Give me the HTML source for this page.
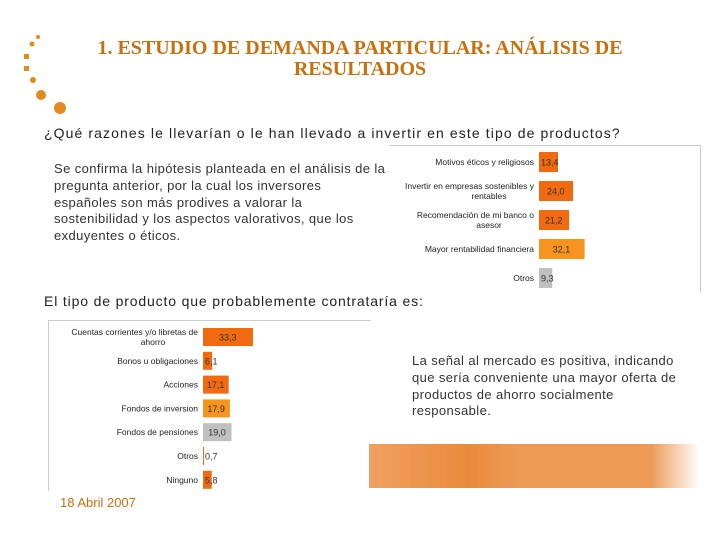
<!DOCTYPE html>
<html><head><meta charset="utf-8">
<style>
body{margin:0;width:720px;height:540px;background:#fff;position:relative;overflow:hidden;font-family:"Liberation Sans",sans-serif}
.abs{position:absolute}
.title{left:80px;width:560px;top:38px;text-align:center;font-family:"Liberation Serif",serif;font-weight:bold;font-size:20px;color:#c8700e;line-height:21px}
.q{left:44px;top:125px;font-size:14px;letter-spacing:1.1px;color:#222;white-space:nowrap}
.p{font-size:13px;letter-spacing:0.4px;color:#333;line-height:16.8px;white-space:nowrap}
svg text{font-family:"Liberation Sans",sans-serif}
</style></head><body>
<svg class="abs" style="left:0;top:0" width="80" height="120">
<circle cx="38" cy="37" r="2" fill="#e38a1e"/><circle cx="32" cy="44" r="2.5" fill="#e38a1e"/>
<rect x="24" y="54" width="5" height="5" fill="#e38a1e"/><rect x="24" y="66" width="5" height="5" fill="#e38a1e"/>
<circle cx="33" cy="80" r="3" fill="#e38a1e"/><circle cx="41" cy="95" r="5" fill="#e38a1e"/><circle cx="60" cy="108" r="6" fill="#e38a1e"/>
</svg>
<div class="abs title">1. ESTUDIO DE DEMANDA PARTICULAR: ANÁLISIS DE<br>RESULTADOS</div>
<div class="abs q">¿Qué razones le llevarían o le han llevado a invertir en este tipo de productos?</div>
<div class="abs p" style="left:54px;top:161px">Se confirma la hipótesis planteada en el análisis de la<br>pregunta anterior, por la cual los inversores<br>españoles son más prodives a valorar la<br>sostenibilidad y los aspectos valorativos, que los<br>exduyentes o éticos.</div>
<div class="abs q" style="top:293px;letter-spacing:0.85px">El tipo de producto que probablemente contrataría es:</div>
<div class="abs p" style="left:412px;top:353px">La señal al mercado es positiva, indicando<br>que sería conveniente una mayor oferta de<br>productos de ahorro socialmente<br>responsable.</div>
<div class="abs" style="left:369px;top:444px;width:331px;height:44px;background:linear-gradient(90deg,#f0a060 0%,#ea8a3c 30%,#ec9a55 45%,#ec9a55 85%,#fff 100%)"></div>
<div class="abs" style="left:60px;top:495px;font-size:13px;color:#c8700e">18 Abril 2007</div>
<svg id="c1" class="abs" style="left:389px;top:145px;border-top:1px solid #ccc;border-right:1px solid #ccc" width="311" height="146"></svg>
<svg id="c2" class="abs" style="left:48px;top:320px;border-top:1px solid #ccc;border-left:1px solid #ccc" width="322" height="170"></svg>
<script>
const cats1=[["Motivos éticos y religiosos"],["Invertir en empresas sostenibles y","rentables"],["Recomendación de mi banco o","asesor"],["Mayor rentabilidad financiera"],["Otros"]];
const vals1=[13.4,24.0,21.2,32.1,9.3];
const labels1=["13,4","24,0","21,2","32,1","9,3"];
const colors1=["#f26a10","#f26a10","#f26a10","#f7941d","#c0c0c0"];
const cats2=[["Cuentas corrientes y/o libretas de","ahorro"],["Bonos u obligaciones"],["Acciones"],["Fondos de inversion"],["Fondos de pensiones"],["Otros"],["Ninguno"]];
const vals2=[33.3,6.1,17.1,17.9,19.0,0.7,5.8];
const labels2=["33,3","6,1","17,1","17,9","19,0","0,7","5,8"];
const colors2=["#f26a10","#f26a10","#f26a10","#f7941d","#c0c0c0","#f26a10","#f26a10"];
const NS="http://www.w3.org/2000/svg";
function draw(id,cats,vals,labels,colors,x0,k,y0,step,bh,name){
 const s=document.getElementById(id);
 const x=v=>x0+v*k, y=i=>y0+i*step;
 cats.forEach((c,i)=>{
  const r=document.createElementNS(NS,"rect");
  
  
  r.setAttribute("x",x0);r.setAttribute("y",y(i)-bh/2);r.setAttribute("width",x(vals[i])-x0);r.setAttribute("height",bh);r.setAttribute("fill",colors[i]);s.appendChild(r);
  const t=document.createElementNS(NS,"text");
  
  
  t.setAttribute("x",Math.max(x0+2,(x0+x(vals[i]))/2-9));t.setAttribute("y",y(i)+3.5);t.setAttribute("font-size","9");t.setAttribute("fill","#333");t.textContent=labels[i];s.appendChild(t);
  c.forEach((line,j)=>{
   const l=document.createElementNS(NS,"text");
   
   
   l.setAttribute("x",x0-5);l.setAttribute("y",y(i)+3-(c.length-1)*5+j*10);l.setAttribute("text-anchor",c.length>1&&j>0?"middle":"end");
   if(c.length>1&&j>0)l.setAttribute("x",x0-50);
   l.setAttribute("font-size","8.5");l.setAttribute("fill","#222");
   l.textContent=line;s.appendChild(l);
  });
 });
}
draw("c1",cats1,vals1,labels1,colors1,150,1.42,16,29,20,"reasons");
draw("c2",cats2,vals2,labels2,colors2,154,1.5,16,23.8,18,"products");
</script>
</body></html>
